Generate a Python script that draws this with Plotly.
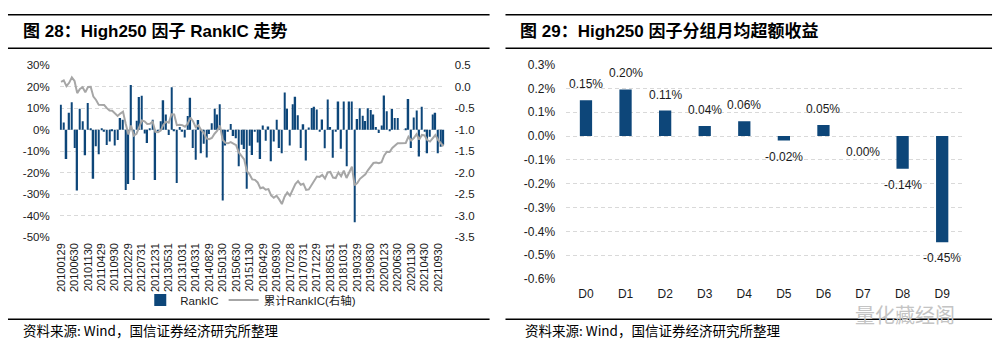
import plotly.graph_objects as go
import numpy as np

W, H = 1001, 358

# ---------------- data ----------------
rank_ic = [
    0.116, 0.034, -0.137, 0.079, 0.128, -0.085, -0.283, 0.098, 0.039, -0.119,
    0.124, 0.005, -0.229, -0.077, -0.115, 0.005, -0.010, -0.071, -0.055, -0.004,
    -0.074, -0.048, 0.054, 0.046, -0.281, -0.253, 0.208, -0.234, 0.042, 0.152,
    0.158, -0.018, -0.062, 0.005, 0.046, -0.234, -0.010, 0.039, 0.137, 0.071,
    -0.025, 0.198, -0.007, -0.249, 0.012, -0.010, -0.036, 0.064, 0.149, -0.085,
    -0.140, 0.045, -0.110, -0.065, -0.130, -0.020, 0.030, 0.098, 0.071, 0.119,
    -0.330, -0.074, -0.010, 0.027, -0.030, -0.040, -0.170, -0.070, -0.090, -0.275,
    -0.075, -0.118, -0.010, -0.060, -0.137, 0.019, -0.052, 0.015, -0.147, -0.055,
    0.046, -0.085, -0.110, 0.173, 0.098, -0.074, 0.119, 0.153, 0.067, -0.085,
    0.025, -0.144, 0.010, 0.101, 0.107, 0.094, -0.010, 0.048, -0.086, 0.141,
    0.012, -0.131, -0.010, 0.131, -0.089, 0.131, -0.171, 0.131, 0.131, -0.432,
    0.050, 0.100, 0.065, 0.040, 0.100, 0.092, 0.071, 0.012, -0.015, 0.020,
    0.159, 0.086, -0.006, 0.097, 0.054, 0.054, 0.000, 0.000, 0.007, 0.143,
    -0.085, 0.057, 0.089, -0.125, 0.107, -0.010, -0.110, -0.033, 0.071, 0.079,
    -0.110, -0.080, -0.070,
]
tick_labels = [
    "20100129", "20100630", "20101130", "20110429", "20110930", "20120229",
    "20120731", "20121231", "20130531", "20131031", "20140331", "20140829",
    "20150130", "20150630", "20151130", "20160429", "20160930", "20170228",
    "20170731", "20171229", "20180531", "20181031", "20190329", "20190830",
    "20200123", "20200630", "20201130", "20210430", "20210930",
]
left_yticks = [0.3, 0.2, 0.1, 0.0, -0.1, -0.2, -0.3, -0.4, -0.5]
right_yticks = [0.5, 0.0, -0.5, -1.0, -1.5, -2.0, -2.5, -3.0, -3.5]

groups = ["D0", "D1", "D2", "D3", "D4", "D5", "D6", "D7", "D8", "D9"]
group_excess = [0.150, 0.196, 0.107, 0.042, 0.062, -0.019, 0.047, 0.000, -0.137, -0.446]  # percent
group_yticks = [0.3, 0.2, 0.1, 0.0, -0.1, -0.2, -0.3, -0.4, -0.5, -0.6]

cum_ic = np.cumsum(rank_ic)
idx = list(range(len(rank_ic)))
n = len(rank_ic)

# ---------------- style ----------------
BAR = "#0d4679"
LINE = "#a6a6a6"
GRID = "#d9d9d9"
TXT = "#1a1a1a"
FONT = "Liberation Sans, Arial, Noto Sans CJK SC, sans-serif"
CJK = "Liberation Sans, Noto Sans CJK SC, sans-serif"


def py(p):
    return 1 - p / H


LXD = [55 / W, 442 / W]
LYD = [py(239.3), py(60.7)]
RXD = [564 / W, 963 / W]
RYD = [py(283), py(60)]
lzero = LYD[0] + (0 - left_yticks[-1]) / (left_yticks[0] - left_yticks[-1]) * (LYD[1] - LYD[0])
rzero = RYD[0] + (0 - group_yticks[-1]) / (group_yticks[0] - group_yticks[-1]) * (RYD[1] - RYD[0])

fig = go.Figure()
fig.add_trace(go.Bar(x=idx, y=rank_ic, name="RankIC", marker=dict(color=BAR, line=dict(width=0)),
                     xaxis="x", yaxis="y"))
fig.add_trace(go.Scatter(x=idx, y=cum_ic, name="累计RankIC(右轴)", mode="lines",
                         line=dict(color=LINE, width=2), xaxis="x", yaxis="y2"))
fig.add_trace(go.Bar(x=groups, y=group_excess, width=0.31,
                     marker=dict(color=BAR, line=dict(width=0)),
                     showlegend=False, xaxis="x2", yaxis="y3"))

tickfont = dict(family=FONT, size=11.5, color=TXT)

fig.update_layout(
    width=W, height=H, margin=dict(l=0, r=0, t=0, b=0, pad=0),
    paper_bgcolor="white", plot_bgcolor="white",
    bargap=0.45,
    font=dict(family=FONT, color=TXT),
    xaxis=dict(domain=LXD, anchor="y", range=[-0.5, n - 0.5], tickmode="array",
               tickvals=idx[::5], ticktext=tick_labels, tickangle=-90,
               showgrid=False, zeroline=False, showline=False, ticks="",
               tickfont=dict(family=FONT, size=11, color=TXT), ticklabelstandoff=3),
    xaxis3=dict(overlaying="x", anchor="free", position=lzero, range=[-0.5, n - 0.5],
                tickmode="linear", tick0=-0.5, dtick=1, ticks="outside", ticklen=3,
                tickcolor=GRID, showline=True, linecolor=GRID, linewidth=1,
                showticklabels=False, showgrid=False, zeroline=False),
    yaxis=dict(domain=LYD, anchor="x", range=[left_yticks[-1], left_yticks[0]],
               tickmode="array", tickvals=left_yticks,
               ticktext=[f"{round(v * 100):d}%" for v in left_yticks],
               showgrid=True, gridcolor=GRID, griddash="4px,3px", gridwidth=1,
               zeroline=False, showline=False, ticks="", tickfont=tickfont,
               ticklabelstandoff=9),
    yaxis2=dict(overlaying="y", side="right", anchor="x",
                range=[right_yticks[-1], right_yticks[0]], tickmode="array",
                tickvals=right_yticks, ticktext=[f"{v:.1f}" for v in right_yticks],
                showgrid=False, zeroline=False, showline=False, ticks="",
                tickfont=tickfont, ticklabelstandoff=9),
    xaxis2=dict(domain=RXD, anchor="y3", type="category", categoryarray=groups,
                showgrid=False, zeroline=False, showline=False, ticks="",
                tickfont=dict(family=FONT, size=12, color=TXT), ticklabelstandoff=6),
    xaxis4=dict(overlaying="x2", anchor="free", position=rzero, range=[-0.5, len(groups) - 0.5],
                tickmode="linear", tick0=-0.5, dtick=1, ticks="outside", ticklen=4,
                tickcolor=GRID, showline=True, linecolor=GRID, linewidth=1,
                showticklabels=False, showgrid=False, zeroline=False),
    yaxis3=dict(domain=RYD, anchor="x2", range=[group_yticks[-1], group_yticks[0]],
                tickmode="array", tickvals=group_yticks,
                ticktext=[f"{v:.1f}%" for v in group_yticks],
                showgrid=True, gridcolor=GRID, griddash="4px,3px", gridwidth=1,
                zeroline=False, showline=False, ticks="",
                tickfont=dict(family=FONT, size=12, color=TXT), ticklabelstandoff=10),
    legend=dict(orientation="h", x=247 / W, y=py(305), xanchor="center", yanchor="middle",
                font=dict(family=CJK, size=11.5, color=TXT), bgcolor="rgba(0,0,0,0)",
                itemwidth=30, traceorder="normal"),
)

# value labels on the right panel
for g, v in zip(groups, group_excess):
    fig.add_annotation(x=g, y=v, xref="x2", yref="y3", text=f"{v:.2f}%", showarrow=False,
                       yshift=16 if v > 0 else -16,
                       font=dict(family=FONT, size=12, color=TXT))

# titles, rules, footers
for x0, x1, title, tx, fx in [(3, 487, "图 28：High250 因子 RankIC 走势", 16, 16),
                              (503, 992, "图 29：High250 因子分组月均超额收益", 516, 521)]:
    for yy in (8, 43, 325):
        fig.add_shape(type="line", xref="paper", yref="paper", x0=x0 / W, x1=x1 / W,
                      y0=py(yy), y1=py(yy), line=dict(color="black", width=1.5))
    fig.add_annotation(xref="paper", yref="paper", x=tx / W, y=py(25), text=title,
                       xanchor="left", yanchor="middle", showarrow=False,
                       font=dict(family=CJK, size=17, color="black", weight="bold"))
    fig.add_annotation(xref="paper", yref="paper", x=fx / W, y=py(336),
                       text="资料来源: Wind，国信证券经济研究所整理",
                       xanchor="left", yanchor="middle", showarrow=False,
                       font=dict(family="Noto Sans CJK SC, sans-serif", size=13.5, color="black"))

# watermark
fig.add_annotation(xref="paper", yref="paper", x=905 / W, y=py(320), text="量化藏经阁",
                   showarrow=False, xanchor="center", yanchor="middle", borderpad=0,
                   font=dict(family="Noto Sans CJK SC, sans-serif", size=20, color="#c4c4c4"))

post = ("var d=document.getElementById('{plot_id}');"
        "d.style.position='fixed';d.style.left='0px';d.style.top='0px';"
        "document.documentElement.style.margin='0';document.body.style.margin='0';"
        "document.documentElement.style.overflow='hidden';document.body.style.overflow='hidden';")
fig.write_html("out.html", config={"displayModeBar": False}, post_script=post)
